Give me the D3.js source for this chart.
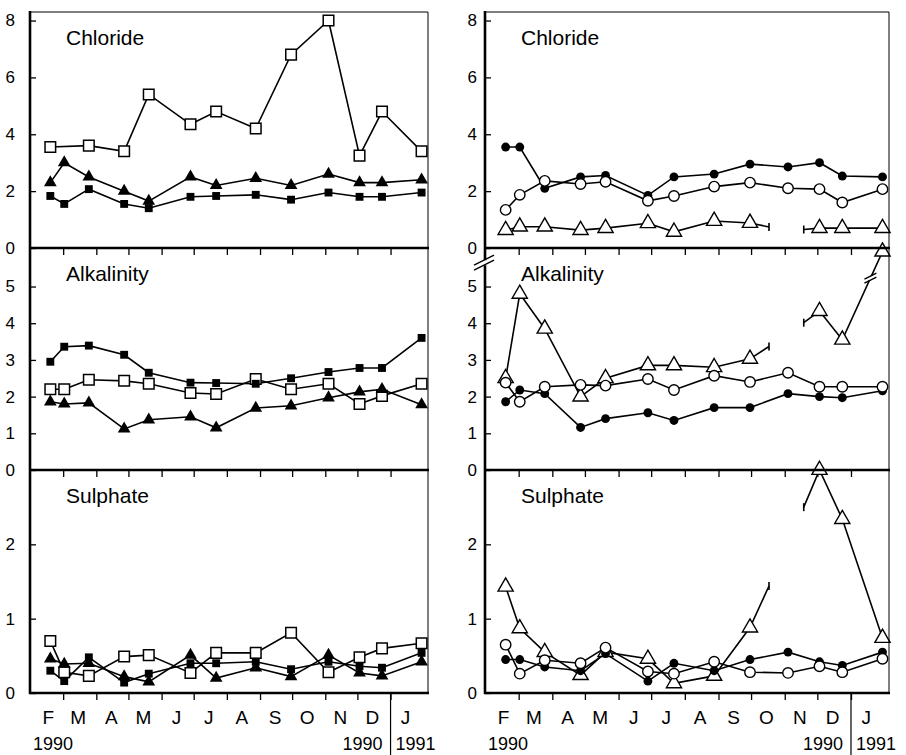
<!DOCTYPE html>
<html>
<head>
<meta charset="utf-8">
<script src="https://cdn.jsdelivr.net/npm/d3@7"></script>
<style>
body { margin: 0; background: #fff; }
svg { display: block; }
</style>
</head>
<body>
<svg width="906" height="755"></svg>
<script>
// sampling dates, shared by every site
var sampleDates = ['1990-02-17', '1990-03-02', '1990-03-25', '1990-04-27', '1990-05-20', '1990-06-28',
    '1990-07-22', '1990-08-28', '1990-09-30', '1990-11-04', '1990-12-03', '1990-12-24', '1991-01-30'];
var monthLabels = ['F', 'M', 'A', 'M', 'J', 'J', 'A', 'S', 'O', 'N', 'D', 'J'];
var panelNames = ['Chloride', 'Alkalinity', 'Sulphate'];
var chlorideTicks = [0, 2, 4, 6, 8];
var alkalinityTicks = [0, 1, 2, 3, 4, 5];
var sulphateTicks = [0, 1, 2];

// left panels: open square, filled triangle, filled square sites
var clOpenSquare = [3.55, null, 3.6, 3.4, 5.4, 4.35, 4.8, 4.2, 6.8, 8.0, 3.25, 4.8, 3.4];
var clFilledTriangle = [2.3, 3.0, 2.5, 2.0, 1.65, 2.5, 2.2, 2.45, 2.2, 2.6, 2.3, 2.3, 2.4];
var clFilledSquare = [1.83, 1.55, 2.07, 1.55, 1.4, 1.8, 1.83, 1.87, 1.7, 1.95, 1.8, 1.8, 1.95];
var alkOpenSquare = [2.2, 2.2, 2.46, 2.43, 2.35, 2.1, 2.07, 2.48, 2.2, 2.35, 1.8, 2.02, 2.35];
var alkFilledTriangle = [1.86, 1.8, 1.83, 1.12, 1.37, 1.45, 1.15, 1.69, 1.75, 1.97, 2.13, 2.2, 1.78];
var alkFilledSquare = [2.95, 3.36, 3.39, 3.14, 2.65, 2.38, 2.37, 2.35, 2.5, 2.67, 2.78, 2.78, 3.6];
var so4OpenSquare = [0.70, 0.28, 0.23, 0.49, 0.51, 0.27, 0.54, 0.54, 0.81, 0.28, 0.48, 0.6, 0.67];
var so4FilledTriangle = [0.46, 0.39, 0.40, 0.22, 0.15, 0.51, 0.2, 0.34, 0.22, 0.51, 0.27, 0.23, 0.42];
var so4FilledSquare = [0.30, 0.16, 0.48, 0.14, 0.26, 0.40, 0.40, 0.42, 0.32, 0.42, 0.36, 0.34, 0.54];

// right panels: open triangle, filled circle, open circle sites
// open triangle: Nov sample not shown (only stubs), Jan alkalinity off scale
var clOpenTriangle = [0.63, 0.75, 0.75, 0.63, 0.7, 0.87, 0.57, 0.95, 0.88, 0.6, 0.7, 0.7, 0.7];
var clFilledCircle = [3.55, 3.55, 2.1, 2.5, 2.55, 1.85, 2.5, 2.6, 2.95, 2.85, 3.0, 2.53, 2.5];
var clOpenCircle = [1.34, 1.87, 2.36, 2.25, 2.33, 1.66, 1.83, 2.16, 2.3, 2.1, 2.07, 1.6, 2.07];
var alkOpenTriangle = [2.5, 4.8, 3.85, 2.0, 2.5, 2.85, 2.85, 2.8, 3.03, 3.7, 4.33, 3.55, 5.95];
var alkFilledCircle = [1.86, 2.18, 2.08, 1.16, 1.4, 1.56, 1.35, 1.7, 1.7, 2.08, 2.0, 1.97, 2.16];
var alkOpenCircle = [2.38, 1.86, 2.27, 2.32, 2.3, 2.48, 2.18, 2.57, 2.4, 2.65, 2.27, 2.27, 2.27];
var so4OpenTriangle = [1.43, 0.87, 0.55, 0.24, 0.55, 0.46, 0.13, 0.23, 0.88, 2.0, 3.0, 2.34, 0.74];
var so4FilledCircle = [0.45, 0.45, 0.35, 0.3, 0.53, 0.16, 0.4, 0.3, 0.45, 0.55, 0.42, 0.37, 0.55];
var so4OpenCircle = [0.65, 0.26, 0.44, 0.4, 0.61, 0.29, 0.26, 0.42, 0.28, 0.27, 0.36, 0.28, 0.46];

var font = '"Liberation Sans", Arial, Helvetica, sans-serif';
var columns = [{left: 30, right: 428, pad: 15}, {left: 485, right: 889, pad: 8}];
var rows = [{top: 12, bottom: 248, max: 8.3, ticks: chlorideTicks},
    {top: 248, bottom: 470, max: 6.05, ticks: alkalinityTicks},
    {top: 470, bottom: 693, max: 3, ticks: sulphateTicks}];

var hiddenIndex = 9;      // open triangle site, not plotted in Nov
var axisBreak = 5.65;     // right alkalinity axis is broken here

var panels = [
    {col: 0, row: 0, series: [['openSquare', clOpenSquare], ['filledTriangle', clFilledTriangle], ['filledSquare', clFilledSquare]]},
    {col: 0, row: 1, series: [['openSquare', alkOpenSquare], ['filledTriangle', alkFilledTriangle], ['filledSquare', alkFilledSquare]]},
    {col: 0, row: 2, series: [['openSquare', so4OpenSquare], ['filledTriangle', so4FilledTriangle], ['filledSquare', so4FilledSquare]]},
    {col: 1, row: 0, series: [['openTriangle', clOpenTriangle], ['filledCircle', clFilledCircle], ['openCircle', clOpenCircle]]},
    {col: 1, row: 1, series: [['openTriangle', alkOpenTriangle], ['filledCircle', alkFilledCircle], ['openCircle', alkOpenCircle]], brk: true},
    {col: 1, row: 2, series: [['openTriangle', so4OpenTriangle], ['filledCircle', so4FilledCircle], ['openCircle', so4OpenCircle]]}
];

var markers = {
    openSquare: {type: d3.symbolSquare, size: 112, fill: '#fff', stroke: 1.5},
    filledSquare: {type: d3.symbolSquare, size: 62, fill: '#000', stroke: 0},
    filledTriangle: {type: d3.symbolTriangle, size: 70, fill: '#000', stroke: 0},
    openTriangle: {type: d3.symbolTriangle, size: 100, fill: '#fff', stroke: 1.4},
    filledCircle: {type: d3.symbolCircle, size: 62, fill: '#000', stroke: 0},
    openCircle: {type: d3.symbolCircle, size: 86, fill: '#fff', stroke: 1.4}
};

var parse = d3.timeParse('%Y-%m-%d');
var dates = sampleDates.map(parse);
var xDomain = [parse('1990-01-29'), parse('1991-02-05')];
var monthStarts = d3.timeMonths(parse('1990-03-01'), parse('1991-01-02'));
var labelMonths = d3.timeMonths(parse('1990-02-01'), parse('1991-01-02'));
var newYear = parse('1991-01-01');

var svg = d3.select('svg');
var lineGen = d3.line().x(d => d.x).y(d => d.y);

panels.forEach(p => {
    var col = columns[p.col], row = rows[p.row];
    var x = d3.scaleTime().domain(xDomain).range([col.left, col.right]);
    var y = d3.scaleLinear().domain([0, row.max]).range([row.bottom, row.top]);

    // y axis, ticks pointing inward
    var yAxis = d3.axisLeft(y).tickValues(row.ticks).tickSizeInner(-6).tickSizeOuter(0)
        .tickPadding(col.pad).tickFormat(d3.format('d'));
    var gy = svg.append('g')
        .attr('transform', 'translate(' + [col.left, 0] + ')')
        .call(yAxis)
        .attr('font-family', font)
        .attr('font-size', 17);
    gy.select('.domain').remove();
    gy.selectAll('line').attr('stroke', '#000').attr('stroke-width', 1.3);
    gy.selectAll('text').attr('fill', '#000');

    // month ticks along each panel bottom
    var xAxis = d3.axisBottom(x).tickValues(monthStarts).tickSize(7).tickFormat('');
    var gx = svg.append('g')
        .attr('transform', 'translate(' + [0, row.bottom] + ')')
        .call(xAxis);
    gx.select('.domain').remove();
    gx.selectAll('line').attr('stroke', '#000').attr('stroke-width', 1.3);

    // panel title
    svg.append('text')
        .attr('x', col.left + 36)
        .attr('y', row.top + 33)
        .attr('font-family', font)
        .attr('font-size', 21)
        .text(panelNames[p.row]);

    // lines
    var layers = p.series.map(s => {
        var kind = s[0], values = s[1];
        var pts = [];
        values.forEach((v, i) => {
            if (v != null) pts.push({i: i, x: x(dates[i]), y: y(v)});
        });
        var runs = [], run = [], stubs = [];
        pts.forEach((d, k) => {
            if (kind === 'openTriangle' && d.i === hiddenIndex) {
                var a = {x: (pts[k - 1].x + d.x) / 2, y: (pts[k - 1].y + d.y) / 2};
                var b = {x: (d.x + pts[k + 1].x) / 2, y: (d.y + pts[k + 1].y) / 2};
                run.push(a);
                runs.push(run);
                stubs.push(a, b);
                run = [b];
            } else {
                run.push(d);
            }
        });
        runs.push(run);
        runs.forEach(r => {
            svg.append('path')
                .attr('d', lineGen(r))
                .attr('fill', 'none')
                .attr('stroke', '#000')
                .attr('stroke-width', 1.6);
        });
        stubs.forEach(d => {
            svg.append('line')
                .attr('x1', d.x).attr('x2', d.x)
                .attr('y1', d.y - 4).attr('y2', d.y + 4)
                .attr('stroke', '#000').attr('stroke-width', 1.6);
        });
        // break on the line going to the off-scale point
        if (p.brk && kind === 'openTriangle') {
            var last = pts[pts.length - 1], prev = pts[pts.length - 2];
            var bx = prev.x + (last.x - prev.x) * 0.7, by = prev.y + (last.y - prev.y) * 0.7;
            svg.append('rect').attr('x', bx - 6).attr('y', by - 2).attr('width', 12).attr('height', 4).attr('fill', '#fff');
            [-2, 2].forEach(o => {
                svg.append('line')
                    .attr('x1', bx - 6).attr('y1', by + o + 3)
                    .attr('x2', bx + 6).attr('y2', by + o - 3)
                    .attr('stroke', '#000').attr('stroke-width', 1.3);
            });
        }
        return {kind: kind, pts: pts.filter(d => !(kind === 'openTriangle' && d.i === hiddenIndex))};
    });

    // markers on top of the lines
    layers.forEach(l => {
        var m = markers[l.kind];
        svg.append('g').selectAll('path')
            .data(l.pts)
            .enter().append('path')
            .attr('d', d3.symbol().type(m.type).size(m.size))
            .attr('transform', d => 'translate(' + [d.x, d.y] + ')')
            .attr('fill', m.fill)
            .attr('stroke', m.stroke ? '#000' : 'none')
            .attr('stroke-width', m.stroke);
    });

    // axis break mark on the left edge
    if (p.brk) {
        var yb = y(axisBreak);
        svg.append('rect').attr('x', col.left - 2).attr('y', yb - 2).attr('width', 4).attr('height', 4).attr('fill', '#fff');
        [-2.5, 2.5].forEach(o => {
            svg.append('line')
                .attr('x1', col.left - 11).attr('y1', yb + o + 5)
                .attr('x2', col.left + 9).attr('y2', yb + o - 5)
                .attr('stroke', '#000').attr('stroke-width', 1.3);
        });
    }
});

// frames, month letters and years
columns.forEach((col, c) => {
    var x = d3.scaleTime().domain(xDomain).range([col.left, col.right]);
    var top = rows[0].top, bottom = rows[2].bottom;

    svg.append('line').attr('x1', col.left).attr('x2', col.right).attr('y1', top).attr('y2', top)
        .attr('stroke', '#000').attr('stroke-width', 1);
    svg.append('line').attr('x1', col.right).attr('x2', col.right).attr('y1', top).attr('y2', bottom)
        .attr('stroke', '#000').attr('stroke-width', 1);
    rows.forEach(r => {
        svg.append('line').attr('x1', col.left - 1).attr('x2', col.right + 1).attr('y1', r.bottom).attr('y2', r.bottom)
            .attr('stroke', '#000').attr('stroke-width', 2.6);
    });
    var axisLine = svg.append('g');
    if (c === 1) {
        var yb = rows[1].bottom - (rows[1].bottom - rows[1].top) * axisBreak / rows[1].max;
        axisLine.append('line').attr('x1', col.left).attr('x2', col.left).attr('y1', top - 1).attr('y2', yb - 2.5);
        axisLine.append('line').attr('x1', col.left).attr('x2', col.left).attr('y1', yb + 2.5).attr('y2', bottom + 1);
    } else {
        axisLine.append('line').attr('x1', col.left).attr('x2', col.left).attr('y1', top - 1).attr('y2', bottom + 1);
    }
    axisLine.selectAll('line').attr('stroke', '#000').attr('stroke-width', 2.6);

    svg.append('g').selectAll('text')
        .data(labelMonths)
        .enter().append('text')
        .attr('x', d => x(d3.timeDay.offset(d, 14)))
        .attr('y', 724)
        .attr('text-anchor', 'middle')
        .attr('font-family', font)
        .attr('font-size', 19)
        .text((d, i) => monthLabels[i]);

    var xy = x(newYear);
    svg.append('line').attr('x1', xy).attr('x2', xy).attr('y1', bottom).attr('y2', 755)
        .attr('stroke', '#000').attr('stroke-width', 1.2);

    var years = [['1990', col.left + 3, 'start'], ['1990', xy - 8, 'end'], ['1991', xy + 5, 'start']];
    years.forEach(t => {
        svg.append('text')
            .attr('x', t[1]).attr('y', 750)
            .attr('text-anchor', t[2])
            .attr('font-family', font)
            .attr('font-size', 18)
            .text(t[0]);
    });
});
</script>
</body>
</html>
